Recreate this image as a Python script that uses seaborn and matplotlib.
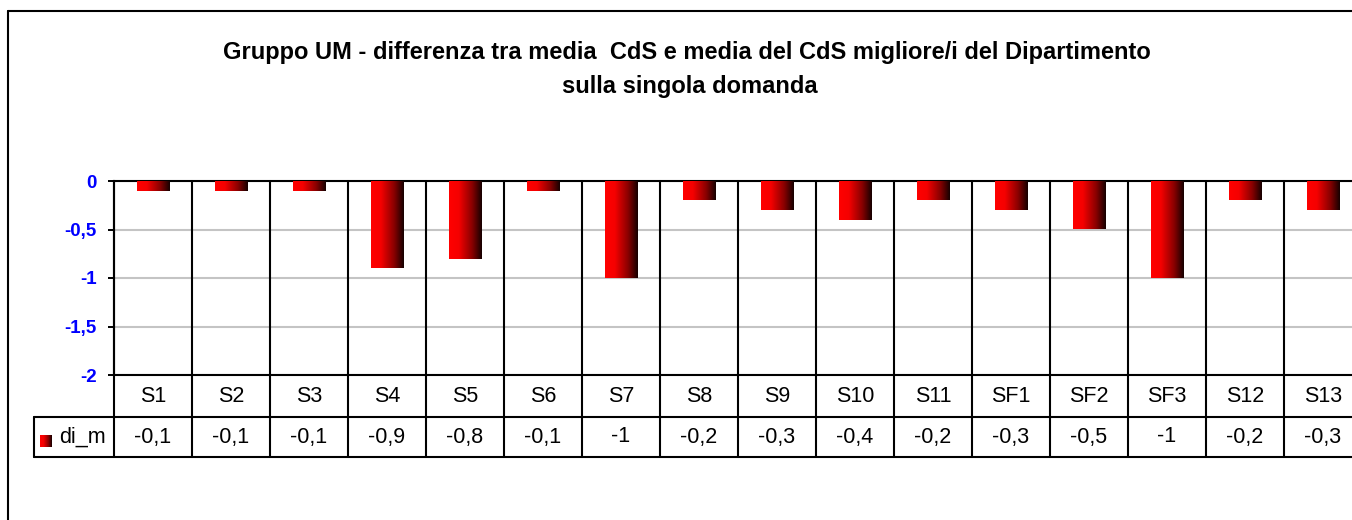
# Gruppo UM - differenza tra media CdS e media del CdS migliore/i del Dipartimento

import numpy as np
import pandas as pd
import matplotlib.pyplot as plt
import matplotlib.ticker as mticker
from matplotlib.colors import LinearSegmentedColormap
from matplotlib.lines import Line2D
import seaborn as sb

# Data
domande = ['S1', 'S2', 'S3', 'S4', 'S5', 'S6', 'S7', 'S8', 'S9', 'S10',
           'S11', 'SF1', 'SF2', 'SF3', 'S12', 'S13']
di_m = [-0.1, -0.1, -0.1, -0.9, -0.8, -0.1, -1, -0.2, -0.3, -0.4,
        -0.2, -0.3, -0.5, -1, -0.2, -0.3]
serie = 'di_m'
y_ticks = [0, -0.5, -1, -1.5, -2]

df = pd.DataFrame({'domanda': domande, 'valore': di_m})

sb.set_style('white')
plt.rcParams['font.family'] = ['Liberation Sans', 'DejaVu Sans']
plt.rcParams['text.color'] = 'black'

W, H = 1352, 520
fig = plt.figure(figsize=(W / 100, H / 100), dpi=100)
ax = fig.add_axes([114 / W, 1 - 375 / H, 1248 / W, 194 / H])

sb.barplot(data=df, x='domanda', y='valore', color='red', width=0.42,
           saturation=1, ax=ax)

# red -> black gradient like the Excel bars
grad_cmap = LinearSegmentedColormap.from_list(
    'rosso', [(0, '#ff0000'), (0.3, '#f50000'), (0.7, '#8a0000'), (1, '#150000')])
grad = np.linspace(0, 1, 256).reshape(1, -1)
for p in ax.patches:
    x0, y0 = p.get_x(), p.get_y()
    w, h = p.get_width(), p.get_height()
    im = ax.imshow(grad, cmap=grad_cmap, aspect='auto', interpolation='bilinear',
                   extent=[x0, x0 + w, y0 + h, y0], zorder=3)
    im.set_clip_path(p)
    p.set_alpha(0)

ax.set_xlim(-0.5, len(domande) - 0.5)
ax.set_ylim(-2, 0)
ax.set_yticks(y_ticks)
ax.yaxis.set_major_formatter(mticker.FuncFormatter(lambda v, _: f'{v:g}'.replace('.', ',')))
ax.tick_params(axis='y', left=True, length=4.5, width=1.4, color='black', pad=8,
               labelsize=13.5, labelcolor='#0000ff')
for lab in ax.get_yticklabels():
    lab.set_fontweight('bold')
ax.set_xticks([])
ax.set_xlabel('')
ax.set_ylabel('')
ax.grid(axis='y', color='#c4c4c4', linewidth=1.5)
ax.set_axisbelow(True)
for side in ['left', 'top', 'bottom']:
    ax.spines[side].set_visible(True)
    ax.spines[side].set_color('black')
    ax.spines[side].set_linewidth(1.5)
ax.spines['right'].set_visible(False)

# data table under the chart
row1 = -42 / 194
row2 = -82 / 194
leg_left = (34 - 114) / 1248
tr = ax.get_xaxis_transform()
for i in range(len(domande) + 1):
    ax.add_line(Line2D([i - 0.5, i - 0.5], [1, row2], transform=tr, color='black',
                       lw=1.5, clip_on=False))
for yy in [row1, row2]:
    ax.add_line(Line2D([leg_left, 1], [yy, yy], transform=ax.transAxes, color='black',
                       lw=1.5, clip_on=False))
ax.add_line(Line2D([leg_left, leg_left], [row1, row2], transform=ax.transAxes,
                   color='black', lw=1.5, clip_on=False))

for i, (d, v) in enumerate(zip(domande, di_m)):
    ax.text(i, row1 / 2, d, transform=tr, ha='center', va='center', fontsize=15.5)
    ax.text(i, (row1 + row2) / 2, f'{v:g}'.replace('.', ','), transform=tr,
            ha='center', va='center', fontsize=15.5)

# legend key in table
kax = fig.add_axes([40 / W, 1 - 447 / H, 12 / W, 12 / H])
kax.imshow(grad, cmap=grad_cmap, aspect='auto', interpolation='bilinear')
kax.axis('off')
ax.text((59 - 114) / 1248, (row1 + row2) / 2, serie, transform=ax.transAxes,
        ha='left', va='center', fontsize=15.5)

# title
fig.text(687 / W, 1 - 53 / H,
         'Gruppo UM - differenza tra media  CdS e media del CdS migliore/i del Dipartimento',
         ha='center', va='center', fontsize=17, fontweight='bold')
fig.text(690 / W, 1 - 87 / H, 'sulla singola domanda',
         ha='center', va='center', fontsize=17, fontweight='bold')

# outer chart border
fig.add_artist(Line2D([8 / W, 8 / W], [1 - 11 / H, 0], color='black', lw=1.5))
fig.add_artist(Line2D([8 / W, 1], [1 - 11 / H, 1 - 11 / H], color='black', lw=1.5))

fig.savefig('out.png', dpi=100)
